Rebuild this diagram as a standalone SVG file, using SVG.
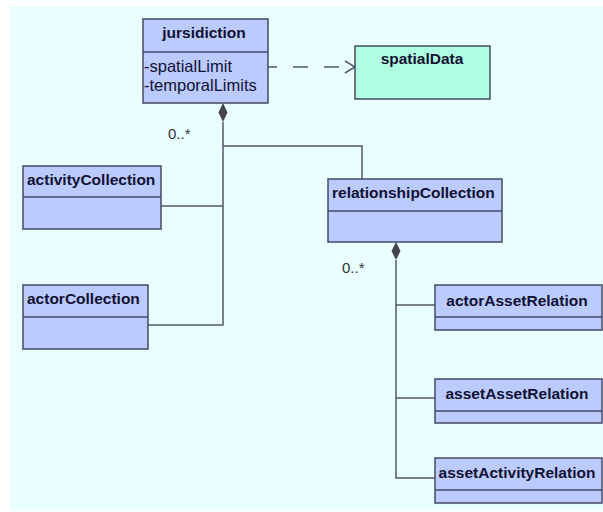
<svg xmlns="http://www.w3.org/2000/svg" width="603" height="512" viewBox="0 0 603 512">
<style>
.box{fill:#bccbff;stroke:#454a66;stroke-width:1.5}
.mint{fill:#b0ffe2;stroke:#454a66;stroke-width:1.5}
.div{stroke:#454a66;stroke-width:1.5}
.t{font-family:"Liberation Sans",Arial,sans-serif;font-weight:bold;font-size:15.5px;fill:#111133}
.a{font-family:"Liberation Sans",Arial,sans-serif;font-size:16.5px;fill:#111133}
.m{font-family:"Liberation Sans",Arial,sans-serif;font-size:15px;fill:#333333}
.c{fill:none;stroke:#55586a;stroke-width:1.5}
.d{fill:#444450}
</style>
<rect x="0" y="0" width="603" height="512" fill="#ffffff"/>
<rect x="10" y="6" width="593" height="505" fill="#eaffff"/>
<g id="connectors">
<path class="c" d="M240 67 H355" stroke-dasharray="15 16" stroke-dashoffset="9"/>
<path class="c" d="M345 61 L355 67 L345 73"/>
<polygon class="d" points="223,103 227.5,112.5 223,122 218.5,112.5"/>
<path class="c" d="M223 122 V325 H148"/>
<path class="c" d="M161 206 H223"/>
<path class="c" d="M223 146 H362 V179"/>
<polygon class="d" points="396,242 400.5,251 396,260 391.5,251"/>
<path class="c" d="M396 260 V478 H435"/>
<path class="c" d="M396 305 H435"/>
<path class="c" d="M396 398 H435"/>
<text class="m" x="168" y="139">0..*</text>
<text class="m" x="342" y="273">0..*</text>
</g>
<g id="jursidiction">
<rect class="box" x="143" y="19" width="125" height="84"/>
<line class="div" x1="143" y1="52" x2="268" y2="52"/>
<text class="t" x="204" y="38" text-anchor="middle">jursidiction</text>
<text class="a" x="144" y="72">-spatialLimit</text>
<text class="a" x="144" y="91">-temporalLimits</text>
</g>
<g id="spatialData">
<rect class="mint" x="355" y="46" width="135" height="53"/>
<text class="t" x="422" y="64" text-anchor="middle">spatialData</text>
</g>
<g id="activityCollection">
<rect class="box" x="23" y="166" width="138" height="63"/>
<line class="div" x1="23" y1="197" x2="161" y2="197"/>
<text class="t" x="27" y="185">activityCollection</text>
</g>
<g id="actorCollection">
<rect class="box" x="23" y="285" width="125" height="64"/>
<line class="div" x1="23" y1="317" x2="148" y2="317"/>
<text class="t" x="27" y="304">actorCollection</text>
</g>
<g id="relationshipCollection">
<rect class="box" x="328" y="179" width="174" height="63"/>
<line class="div" x1="328" y1="211" x2="502" y2="211"/>
<text class="t" x="332" y="198">relationshipCollection</text>
</g>
<g id="actorAssetRelation">
<rect class="box" x="435" y="285" width="167" height="45"/>
<line class="div" x1="435" y1="317" x2="602" y2="317"/>
<text class="t" x="517" y="306" text-anchor="middle">actorAssetRelation</text>
</g>
<g id="assetAssetRelation">
<rect class="box" x="435" y="379" width="167" height="44"/>
<line class="div" x1="435" y1="411" x2="602" y2="411"/>
<text class="t" x="517" y="399" text-anchor="middle">assetAssetRelation</text>
</g>
<g id="assetActivityRelation">
<rect class="box" x="435" y="458" width="167" height="45"/>
<line class="div" x1="435" y1="490" x2="602" y2="490"/>
<text class="t" x="517" y="478" text-anchor="middle">assetActivityRelation</text>
</g>
</svg>
